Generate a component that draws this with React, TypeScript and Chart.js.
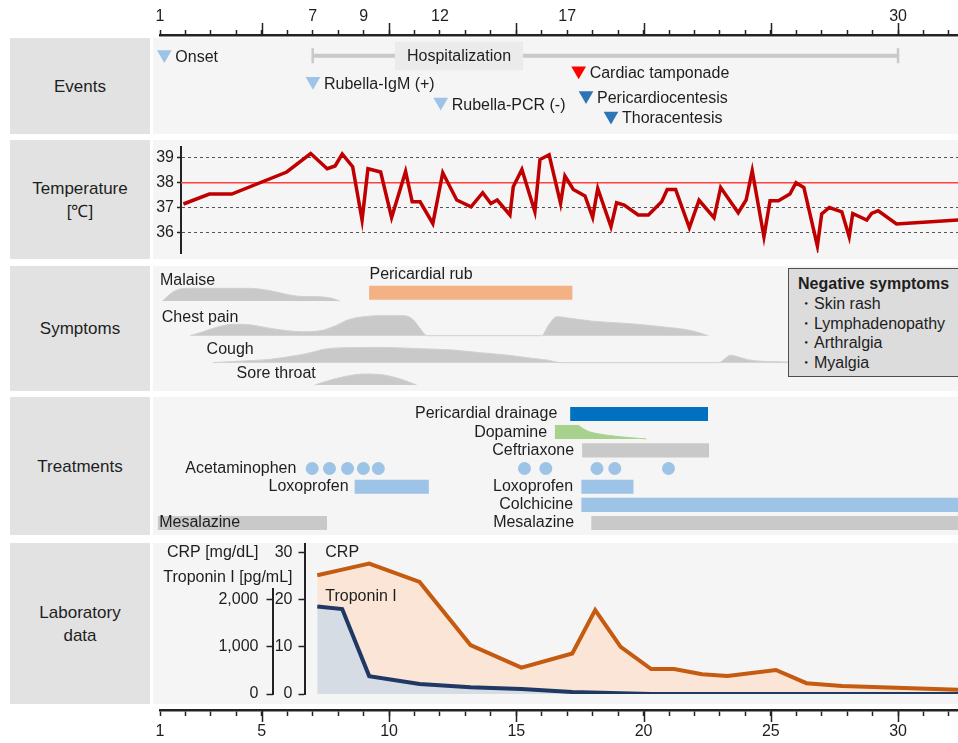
import React, { useEffect, useRef } from 'react';
import { Chart, registerables } from 'chart.js';

Chart.register(...registerables);

const FONT = "'Liberation Sans', Arial, Helvetica, sans-serif";
const INK = '#1e1e1e';
Chart.defaults.font.family = FONT;
Chart.defaults.font.size = 16;
Chart.defaults.color = INK;

// ================= DATA =================
// Time axis (days)
const AXIS_TICK_DAYS = [1, 2, 3, 4, 5, 6, 7, 8, 9, 10, 11, 12, 13, 14, 15, 16, 17, 18, 19, 20, 21, 22, 23, 24, 25, 26, 27, 28, 29, 30, 31, 32];
const MAJOR_TICK_DAYS = [5, 10, 15, 20, 25, 30];
const TOP_AXIS_LABELS = [1, 7, 9, 12, 17, 30];
const BOTTOM_AXIS_LABELS = [1, 5, 10, 15, 20, 25, 30];

// Events
const EVENT_NAMES = ['Onset', 'Rubella-IgM (+)', 'Rubella-PCR (-)', 'Cardiac tamponade', 'Pericardiocentesis', 'Thoracentesis'];
const EVENT_DAYS = [1.17, 7.01, 12.03, 17.45, 17.74, 18.72];
const HOSPITAL_DAYS = [7, 30];
const HOSPITAL_LABEL = 'Hospitalization';

// Temperature
const TEMP_DAYS = [1.92, 2.94, 3.82, 5.98, 6.92, 7.57, 7.88, 8.16, 8.57, 8.94, 9.17, 9.67, 10.1, 10.65, 10.91, 11.22, 11.72, 12.11, 12.66, 13.22, 13.68, 14.0, 14.25, 14.75, 14.88, 15.22, 15.73, 15.93, 16.29, 16.74, 16.91, 17.24, 17.7, 18.0, 18.2, 18.72, 18.94, 19.24, 19.79, 20.19, 20.71, 20.93, 21.26, 21.8, 22.18, 22.77, 23.03, 23.72, 24.03, 24.27, 24.73, 24.97, 25.3, 25.75, 25.99, 26.3, 26.83, 27.0, 27.3, 27.79, 28.08, 28.22, 28.77, 28.96, 29.22, 29.94, 32.37];
const TEMP_VALUES = [37.15, 37.55, 37.55, 38.43, 39.17, 38.56, 38.67, 39.15, 38.64, 36.51, 38.56, 38.43, 36.61, 38.45, 37.24, 37.24, 36.37, 38.4, 37.31, 37.04, 37.6, 37.17, 37.31, 36.71, 37.84, 38.53, 36.84, 38.93, 39.12, 37.17, 38.27, 37.73, 37.47, 36.61, 37.77, 36.24, 37.2, 37.11, 36.71, 36.71, 37.24, 37.73, 37.73, 36.2, 37.3, 36.6, 37.81, 36.8, 37.31, 38.48, 35.84, 37.28, 37.28, 37.55, 38.0, 37.81, 35.47, 36.75, 37.01, 36.84, 35.84, 36.77, 36.51, 36.77, 36.88, 36.35, 36.51];
const TEMP_TICKS = [36, 37, 38, 39];
const FEVER_LINE = 38;

// Symptoms (relative severity)
const MALAISE_DAYS = [1.1, 1.35, 1.66, 2.2, 4.5, 5.3, 6.1, 6.6, 7.2, 7.7, 8.07];
const MALAISE_LEVEL = [0, 6, 11, 12.7, 12.7, 10.5, 6, 4.5, 4.3, 3, 0];
const CHEST_DAYS = [2.18, 2.7, 3.3, 3.9, 4.5, 5.2, 6.0, 6.6, 7.3, 7.9, 8.4, 9.0, 9.6, 10.6, 10.95, 11.2, 11.5, 16.0, 16.25, 16.6, 17.1, 18.0, 19.5, 20.7, 21.9, 22.55];
const CHEST_LEVEL = [0, 4, 9, 11.5, 11, 8, 5, 4, 5, 10, 16, 19, 20, 20, 16, 8, 0, 0, 10, 19, 17.5, 14.5, 12, 9, 5, 0];
const COUGH_DAYS = [3.08, 4.1, 5.3, 6.3, 7.0, 7.4, 8.3, 9.8, 11.2, 12.5, 13.5, 14.6, 15.5, 16.2, 16.8, 22.95, 23.2, 23.4, 23.7, 24.1, 24.6, 25.5, 26.5, 32];
const COUGH_LEVEL = [0, 1.5, 3.3, 7, 10.5, 13.3, 15, 15.3, 14, 12.7, 10.2, 7.7, 4.8, 2.7, 0, 0, 4, 7.5, 6, 3, 1.5, 0.8, 0, 0];
const SORE_DAYS = [7.08, 7.7, 8.45, 9.06, 9.8, 10.45, 11.08];
const SORE_LEVEL = [0, 5, 9.5, 11, 10, 6, 0];
const PERICARDIAL_RUB = [9.23, 17.19];
const NEGATIVE_SYMPTOMS = ['Skin rash', 'Lymphadenopathy', 'Arthralgia', 'Myalgia'];

// Treatments
const TREATMENT_STARTS = [17.13, 17.6, 8.66, 17.57, 17.57, 0.93, 17.96];
const TREATMENT_ENDS = [22.52, 22.56, 11.55, 19.59, 33, 7.55, 33];
const ACETAMINOPHEN_DAYS = [6.98, 7.66, 8.37, 8.99, 9.58, 15.32, 16.16, 18.17, 18.87, 20.98];
const DOPAMINE_DAYS = [16.51, 17.43, 17.6, 17.84, 18.2, 18.66, 19.4, 20.1];
const DOPAMINE_DOSE = [1, 1, 0.8, 0.55, 0.38, 0.25, 0.1, 0];
const TX_LABELS = ['Pericardial drainage', 'Dopamine', 'Ceftriaxone', 'Acetaminophen', 'Loxoprofen', 'Loxoprofen', 'Colchicine', 'Mesalazine', 'Mesalazine'];
const TX_LABEL_DAYS = [16.61, 16.21, 17.27, 6.36, 8.41, 17.23, 17.23, 0.97, 17.27];

// Laboratory
const CRP_DAYS = [7.18, 8.16, 9.22, 11.2, 13.2, 15.2, 17.2, 18.1, 19.1, 20.3, 21.2, 22.3, 23.3, 25.2, 26.4, 27.8, 32.4];
const CRP_VALUES = [25.2, 26.4, 27.7, 23.8, 10.4, 5.6, 8.6, 17.8, 10.0, 5.3, 5.3, 4.2, 3.8, 5.1, 2.3, 1.7, 0.9];
const TROP_DAYS = [7.18, 8.16, 9.22, 11.2, 13.2, 15.2, 17.2, 19.1, 20.3, 32.4];
const TROP_VALUES = [1859, 1803, 380, 211, 141, 106, 42, 14, 0, 0];
const CRP_TICKS = [0, 10, 20, 30];
const TROP_TICKS = [0, 1000, 2000];

// ================= LAYOUT / STYLE =================
const DAY1_PX = 160;
const PX_PER_DAY = 25.45;
const PAGE_W = 958;
const PANEL_X = 153;
const dayAt = (px: number) => 1 + (px - DAY1_PX) / PX_PER_DAY;

const PANELS = [
  { name: 'Events', top: 38, bottom: 134 },
  { name: 'Temperature\n[℃]', top: 140, bottom: 259 },
  { name: 'Symptoms', top: 266, bottom: 391 },
  { name: 'Treatments', top: 397, bottom: 535 },
  { name: 'Laboratory\ndata', top: 543, bottom: 704 },
];

const EVENT_ROWS = [1.66, 4.32, 6.41, 3.28, 5.74, 7.79];
const EVENT_COLORS = ['#9dc3e6', '#9dc3e6', '#9dc3e6', '#ff0000', '#2e75b6', '#2e75b6'];
const HOSPITAL_ROW = 1.77;
const HOSPITAL_LABEL_DAY = 12.75;

const SYMPTOM_BASES = [90, 55.3, 28.3, 6];
const SYMPTOM_NAMES = ['Malaise', 'Chest pain', 'Cough', 'Sore throat'];
const SYMPTOM_LABEL_DAYS = [1.0, 1.07, 2.83, 4.01];
const SYMPTOM_LABEL_LIFT = [20, 18, 13.4, 11.7];
const RUB_ROW = 98.3;

const TX_ROWS = [0, 2, 4, 4, 5, 6, 6];
const TX_COLORS = ['#0070c0', '#c9c9c9', '#9dc3e6', '#9dc3e6', '#9dc3e6', '#c9c9c9', '#c9c9c9'];
const TX_LABEL_ROWS = [0, 1, 2, 3, 4, 4, 5, 6, 6];
const TX_LABEL_ALIGN: CanvasTextAlign[] = ['right', 'right', 'right', 'right', 'right', 'right', 'right', 'left', 'right'];
const DOPA_ROW = 1;
const ACET_ROW = 3;
const BAR_HALF = 0.3687;

const CRP_AXIS_MAX = 32.06;
const TROP_PER_CRP = 100;
const TROP_AXIS_TOP = 2250;

// ================= HELPERS =================
function drawLabel(ctx: CanvasRenderingContext2D, s: string, x: number, y: number, align: CanvasTextAlign = 'left', weight = 'normal') {
  ctx.save();
  ctx.font = `${weight} 16px ${FONT}`;
  ctx.fillStyle = INK;
  ctx.textAlign = align;
  ctx.textBaseline = 'middle';
  ctx.fillText(s, x, y);
  ctx.restore();
}

const common = (extra: any) => {
  const { layout, ...rest } = extra;
  return {
    responsive: false,
    maintainAspectRatio: false,
    animation: false,
    events: [],
    plugins: { legend: { display: false }, tooltip: { enabled: false } },
    layout: { autoPadding: false, ...(layout || {}) },
    ...rest,
  };
};

const dayScale = (leftPx: number, rightPx: number) => ({
  type: 'linear',
  min: dayAt(leftPx),
  max: dayAt(rightPx),
  display: false,
  offset: false,
  beginAtZero: false,
  grid: { offset: false },
});

const hiddenY = (min: number, max: number, reverse = false) => ({
  type: 'linear', min, max, reverse, display: false, offset: false, beginAtZero: false, grid: { offset: false },
});

// ================= CHART CONFIGS =================
function axisConfig(position: 'top' | 'bottom') {
  const labels = position === 'top' ? TOP_AXIS_LABELS : BOTTOM_AXIS_LABELS;
  return {
    type: 'line',
    data: { datasets: [] },
    options: common({
      layout: { padding: { left: 20 } },
      scales: {
        x: {
          type: 'linear',
          position,
          min: 1,
          max: dayAt(PAGE_W),
          offset: false,
          afterBuildTicks: (s: any) => { s.ticks = AXIS_TICK_DAYS.map((v) => ({ value: v })); },
          afterFit: (s: any) => { s.height = position === 'top' ? 35 : 33; s.paddingLeft = 0; s.paddingRight = 0; },
          ticks: { autoSkip: false, maxRotation: 0, padding: position === 'top' ? 4 : 6, color: INK, callback: (v: number) => (labels.includes(v) ? String(v) : '') },
          grid: { drawOnChartArea: false, tickLength: position === 'top' ? 5 : 6, tickWidth: 1.5, tickColor: '#222', offset: false },
          border: { display: true, color: '#222', width: 2.5 },
        },
        y: hiddenY(0, 1),
      },
    }),
    plugins: [{
      id: 'majorTicks',
      afterDraw(chart: any) {
        const x = chart.scales.x;
        const ctx = chart.ctx;
        const y0 = position === 'top' ? x.bottom : x.top;
        const dir = position === 'top' ? -1 : 1;
        ctx.save();
        ctx.strokeStyle = '#222';
        ctx.lineWidth = 1.5;
        MAJOR_TICK_DAYS.forEach((d) => {
          const px = Math.round(x.getPixelForValue(d)) + 0.5;
          ctx.beginPath();
          ctx.moveTo(px, y0);
          ctx.lineTo(px, y0 + dir * 12);
          ctx.stroke();
        });
        ctx.restore();
      },
    }],
  };
}

function eventsConfig() {
  return {
    type: 'line',
    data: {
      datasets: [
        {
          type: 'scatter',
          data: EVENT_DAYS.map((d, i) => ({ x: d, y: EVENT_ROWS[i] })),
          showLine: false,
          pointStyle: 'triangle',
          pointRotation: 180,
          pointRadius: 8.5,
          pointBackgroundColor: EVENT_COLORS,
          pointBorderWidth: 0,
        },
        {
          type: 'line',
          data: HOSPITAL_DAYS.map((d) => ({ x: d, y: HOSPITAL_ROW })),
          borderColor: '#c9c9c9',
          borderWidth: 4,
          pointStyle: 'line',
          pointRotation: 90,
          pointRadius: 7.5,
          pointBorderColor: '#c9c9c9',
          pointBorderWidth: 2.5,
        },
      ],
    },
    options: common({ scales: { x: dayScale(PANEL_X, PAGE_W), y: hiddenY(0, 9.6, true) } }),
    plugins: [{
      id: 'eventText',
      afterDatasetsDraw(chart: any) {
        const { ctx } = chart;
        const { x, y } = chart.scales;
        ctx.save();
        ctx.font = `16px ${FONT}`;
        const w = ctx.measureText(HOSPITAL_LABEL).width;
        const cx = x.getPixelForValue(HOSPITAL_LABEL_DAY);
        const cy = y.getPixelForValue(HOSPITAL_ROW);
        ctx.fillStyle = '#ebebeb';
        ctx.fillRect(cx - w / 2 - 12, cy - 14, w + 24, 28.5);
        ctx.restore();
        drawLabel(ctx, HOSPITAL_LABEL, cx, cy + 1, 'center');
        EVENT_NAMES.forEach((n, i) => drawLabel(ctx, n, x.getPixelForValue(EVENT_DAYS[i]) + 11, y.getPixelForValue(EVENT_ROWS[i]) + 3));
      },
    }],
  };
}

function temperatureConfig() {
  const left = 181;
  return {
    type: 'line',
    data: {
      datasets: [
        {
          data: TEMP_DAYS.map((d, i) => ({ x: d, y: TEMP_VALUES[i] })),
          borderColor: '#c00000',
          borderWidth: 3.5,
          pointRadius: 0,
          tension: 0,
        },
        {
          data: [{ x: dayAt(left), y: FEVER_LINE }, { x: dayAt(PAGE_W), y: FEVER_LINE }],
          borderColor: '#ff4040',
          borderWidth: 1.5,
          pointRadius: 0,
        },
      ],
    },
    options: common({
      layout: { padding: { top: 7, bottom: 6 } },
      scales: {
        x: dayScale(left, PAGE_W),
        y: {
          type: 'linear',
          min: 35.19,
          max: 39.43,
          offset: false,
          afterBuildTicks: (s: any) => { s.ticks = TEMP_TICKS.map((v) => ({ value: v })); },
          afterFit: (s: any) => { s.width = left - PANEL_X; s.paddingTop = 0; s.paddingBottom = 0; },
          ticks: { color: INK, padding: 3, autoSkip: false },
          grid: {
            color: (c: any) => (c.tick && c.tick.value === FEVER_LINE ? 'rgba(0,0,0,0)' : '#555'),
            lineWidth: 1,
            tickLength: 4,
            tickColor: '#222',
            tickWidth: 1.5,
          },
          border: { display: true, color: '#222', width: 2, dash: [3, 3] },
        },
      },
    }),
  };
}

function symptomsConfig() {
  const series = [
    [MALAISE_DAYS, MALAISE_LEVEL],
    [CHEST_DAYS, CHEST_LEVEL],
    [COUGH_DAYS, COUGH_LEVEL],
    [SORE_DAYS, SORE_LEVEL],
  ];
  return {
    type: 'line',
    data: {
      datasets: [
        {
          type: 'bar',
          indexAxis: 'y',
          grouped: false,
          data: [{ x: PERICARDIAL_RUB, y: RUB_ROW }],
          backgroundColor: '#f4b183',
          barThickness: 13.3,
          borderWidth: 0,
        },
        ...series.map(([days, lvl], k) => ({
          type: 'line',
          data: days.map((d, i) => ({ x: d, y: SYMPTOM_BASES[k] + lvl[i] })),
          fill: { value: SYMPTOM_BASES[k] },
          backgroundColor: '#c9c9c9',
          borderColor: '#d0d0d0',
          borderWidth: 1,
          pointRadius: 0,
          cubicInterpolationMode: 'monotone',
        })),
      ],
    },
    options: common({ scales: { x: dayScale(PANEL_X, PAGE_W), y: hiddenY(0, 125) } }),
    plugins: [{
      id: 'symptomText',
      afterDatasetsDraw(chart: any) {
        const { ctx } = chart;
        const { x, y } = chart.scales;
        SYMPTOM_NAMES.forEach((n, k) => drawLabel(ctx, n, x.getPixelForValue(SYMPTOM_LABEL_DAYS[k]), y.getPixelForValue(SYMPTOM_BASES[k] + SYMPTOM_LABEL_LIFT[k])));
        drawLabel(ctx, 'Pericardial rub', x.getPixelForValue(PERICARDIAL_RUB[0]), y.getPixelForValue(RUB_ROW + 17.7));
      },
    }],
  };
}

function treatmentsConfig() {
  return {
    type: 'line',
    data: {
      datasets: [
        {
          type: 'bar',
          indexAxis: 'y',
          grouped: false,
          data: TREATMENT_STARTS.map((s, i) => ({ x: [s, TREATMENT_ENDS[i]], y: TX_ROWS[i] })),
          backgroundColor: TX_COLORS,
          barThickness: 13.4,
          borderWidth: 0,
        },
        {
          type: 'line',
          data: DOPAMINE_DAYS.map((d, i) => ({ x: d, y: DOPA_ROW + BAR_HALF - DOPAMINE_DOSE[i] * 2 * BAR_HALF })),
          fill: { value: DOPA_ROW + BAR_HALF },
          backgroundColor: '#a9d18e',
          borderColor: '#a9d18e',
          borderWidth: 1,
          pointRadius: 0,
          cubicInterpolationMode: 'monotone',
        },
        {
          type: 'scatter',
          data: ACETAMINOPHEN_DAYS.map((d) => ({ x: d, y: ACET_ROW })),
          showLine: false,
          pointRadius: 6.5,
          pointBackgroundColor: '#9dc3e6',
          pointBorderWidth: 0,
        },
      ],
    },
    options: common({ scales: { x: dayScale(PANEL_X, PAGE_W), y: hiddenY(-0.936, 6.659, true) } }),
    plugins: [{
      id: 'txText',
      afterDatasetsDraw(chart: any) {
        const { ctx } = chart;
        const { x, y } = chart.scales;
        TX_LABELS.forEach((n, i) => drawLabel(ctx, n, x.getPixelForValue(TX_LABEL_DAYS[i]), y.getPixelForValue(TX_LABEL_ROWS[i]), TX_LABEL_ALIGN[i]));
      },
    }],
  };
}

function labConfig() {
  const left = 304.5;
  const tropWidth = 272.5 - PANEL_X;
  return {
    type: 'line',
    data: {
      datasets: [
        {
          yAxisID: 'y2',
          data: TROP_DAYS.map((d, i) => ({ x: d, y: TROP_VALUES[i] })),
          borderColor: '#1f3864',
          backgroundColor: '#d6dce4',
          fill: 'origin',
          borderWidth: 4,
          pointRadius: 0,
          tension: 0,
        },
        {
          yAxisID: 'y',
          data: CRP_DAYS.map((d, i) => ({ x: d, y: CRP_VALUES[i] })),
          borderColor: '#c55a11',
          backgroundColor: '#fbe5d6',
          fill: 'origin',
          borderWidth: 4,
          pointRadius: 0,
          tension: 0,
        },
      ],
    },
    options: common({
      layout: { padding: { bottom: 10 } },
      scales: {
        x: dayScale(left, PAGE_W),
        y: {
          type: 'linear',
          position: 'left',
          weight: 0,
          min: 0,
          max: CRP_AXIS_MAX,
          offset: false,
          afterBuildTicks: (s: any) => { s.ticks = CRP_TICKS.map((v) => ({ value: v })); },
          afterFit: (s: any) => { s.width = left - 272.5; s.paddingTop = 0; s.paddingBottom = 0; },
          ticks: { padding: 6, color: INK, autoSkip: false, callback: (v: number) => String(v) },
          grid: { drawOnChartArea: false, tickLength: 6, tickColor: '#222', tickWidth: 1.5 },
          border: { display: true, color: '#222', width: 2 },
        },
        y2: {
          type: 'linear',
          position: 'left',
          weight: 1,
          min: 0,
          max: CRP_AXIS_MAX * TROP_PER_CRP,
          offset: false,
          afterBuildTicks: (s: any) => { s.ticks = TROP_TICKS.map((v) => ({ value: v })); },
          afterFit: (s: any) => { s.width = tropWidth; s.paddingTop = 0; s.paddingBottom = 0; },
          ticks: { padding: 8, color: INK, autoSkip: false, callback: (v: number) => v.toLocaleString('en-US') },
          grid: { drawOnChartArea: false, tickLength: 6, tickColor: '#222', tickWidth: 1.5 },
          border: { display: false },
        },
      },
    }),
    plugins: [{
      id: 'labText',
      afterDraw(chart: any) {
        const { ctx } = chart;
        const { x, y, y2 } = chart.scales;
        const ax = Math.round(y2.right);
        ctx.save();
        ctx.strokeStyle = '#222';
        ctx.lineWidth = 2;
        ctx.beginPath();
        ctx.moveTo(ax, y2.getPixelForValue(TROP_AXIS_TOP));
        ctx.lineTo(ax, y2.getPixelForValue(0) + 1);
        ctx.stroke();
        ctx.restore();
        drawLabel(ctx, 'CRP [mg/dL]', y2.right - 14, y.getPixelForValue(30), 'right');
        drawLabel(ctx, 'Troponin I [pg/mL]', y.right - 12, y2.getPixelForValue(TROP_AXIS_TOP) - 10, 'right');
        drawLabel(ctx, 'CRP', x.getPixelForValue(CRP_DAYS[0]) + 8, y.getPixelForValue(30));
        drawLabel(ctx, 'Troponin I', x.getPixelForValue(TROP_DAYS[0]) + 8, y2.getPixelForValue(2060));
      },
    }],
  };
}

// ================= COMPONENTS =================
function ChartBox({ left, top, width, height, config }: { left: number; top: number; width: number; height: number; config: () => any }) {
  const ref = useRef<HTMLCanvasElement | null>(null);
  useEffect(() => {
    if (!ref.current) return;
    const chart = new Chart(ref.current, config());
    return () => chart.destroy();
  }, []);
  return <canvas ref={ref} width={width} height={height} style={{ position: 'absolute', left, top, width, height }} />;
}

export default function App() {
  return (
    <div style={{ position: 'absolute', left: 0, top: 0, width: PAGE_W, height: 743, overflow: 'hidden', background: '#fff', fontFamily: FONT, color: INK }}>
      {PANELS.map((p) => (
        <div
          key={p.name + '-label'}
          style={{
            position: 'absolute', left: 10, top: p.top, width: 140, height: p.bottom - p.top,
            background: '#e2e2e2', display: 'flex', alignItems: 'center', justifyContent: 'center',
            textAlign: 'center', fontSize: 17, lineHeight: '23px', whiteSpace: 'pre-line',
          }}
        >
          {p.name}
        </div>
      ))}
      {PANELS.map((p) => (
        <div key={p.name + '-bg'} style={{ position: 'absolute', left: PANEL_X, top: p.top, width: PAGE_W - PANEL_X, height: p.bottom - p.top, background: '#f5f5f5' }} />
      ))}
      <ChartBox left={140} top={0} width={818} height={37} config={() => axisConfig('top')} />
      <ChartBox left={PANEL_X} top={38} width={PAGE_W - PANEL_X} height={96} config={eventsConfig} />
      <ChartBox left={PANEL_X} top={140} width={PAGE_W - PANEL_X} height={119} config={temperatureConfig} />
      <ChartBox left={PANEL_X} top={266} width={PAGE_W - PANEL_X} height={125} config={symptomsConfig} />
      <ChartBox left={PANEL_X} top={397} width={PAGE_W - PANEL_X} height={138} config={treatmentsConfig} />
      <ChartBox left={PANEL_X} top={543} width={PAGE_W - PANEL_X} height={161} config={labConfig} />
      <ChartBox left={140} top={700} width={818} height={43} config={() => axisConfig('bottom')} />
      <div
        style={{
          position: 'absolute', left: 788, top: 268, width: 200, height: 109, boxSizing: 'border-box',
          border: '1.5px solid #4d4d4d', background: '#dcdcdc', padding: '5px 0 0 9px',
          fontSize: 16, lineHeight: '19.8px', whiteSpace: 'nowrap',
        }}
      >
        <div style={{ fontWeight: 'bold' }}>Negative symptoms</div>
        {NEGATIVE_SYMPTOMS.map((s) => (
          <div key={s}>{'・' + s}</div>
        ))}
      </div>
    </div>
  );
}
